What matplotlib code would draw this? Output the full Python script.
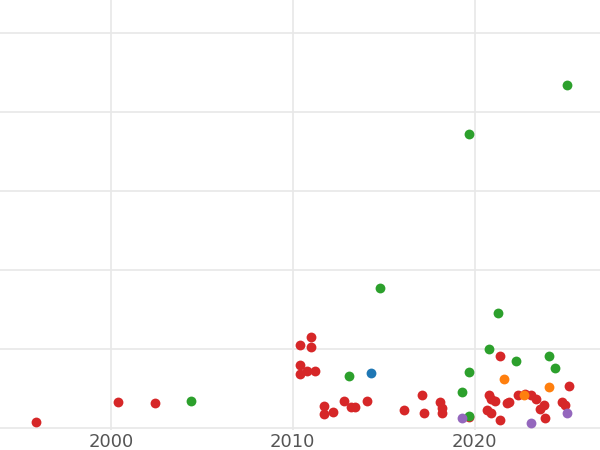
import matplotlib
matplotlib.use("Agg")
import matplotlib.pyplot as plt

red_x=[1995.9,2000.4,2002.4,2010.4,2011.0,2011.0,2010.4,2010.4,2010.8,2011.2,2011.7,2011.7,2012.2,2012.8,2013.2,2013.4,2014.1,2016.1,2017.2,2017.1,2018.1,2018.2,2018.2,2019.7,2020.7,2020.8,2020.9,2020.9,2021.1,2021.4,2021.4,2021.8,2021.9,2022.4,2022.8,2023.1,2023.4,2023.6,2023.8,2023.9,2024.8,2025.0,2025.2]
red_y=[8,33,32,105,116,103,80,68,72,73,28,18,20,34,27,27,34,23,19,42,33,25,19,14,23,42,19,37,34,10,91,32,33,42,43,42,37,24,29,13,33,29,54]
green_x=[2004.4,2013.1,2014.8,2019.7,2019.7,2019.3,2019.7,2021.3,2020.8,2022.3,2024.1,2024.4,2025.1]
green_y=[34,66,177,372,71,46,16,146,100,85,92,76,434]
blue_x=[2014.3]; blue_y=[70]
orange_x=[2021.6,2022.7,2024.1]; orange_y=[62,42,52]
purple_x=[2019.3,2023.1,2025.1]; purple_y=[13,6,19]

fig=plt.figure(figsize=(6,4.5),dpi=100)
ax=fig.add_axes([0,0.044,1,0.956])
for xs,ys,c in [(red_x,red_y,'#d62728'),(green_x,green_y,'#2ca02c'),(blue_x,blue_y,'#1f77b4'),(orange_x,orange_y,'#ff7f0e'),(purple_x,purple_y,'#9467bd')]:
    ax.scatter(xs,ys,s=50,c=c,zorder=3,linewidths=0)
ax.set_xlim(1993.9,2026.9); ax.set_ylim(-2.5,542)
ax.set_xticks([2000,2010,2020]); ax.set_yticks([0,100,200,300,400,500])
ax.set_yticklabels([])
ax.grid(True,color='#e8e8e8',linewidth=1.2)
ax.set_axisbelow(True)
for s in ax.spines.values(): s.set_visible(False)
ax.tick_params(length=0,labelsize=13,labelcolor='#555555',pad=2)
fig.savefig('out.png')
